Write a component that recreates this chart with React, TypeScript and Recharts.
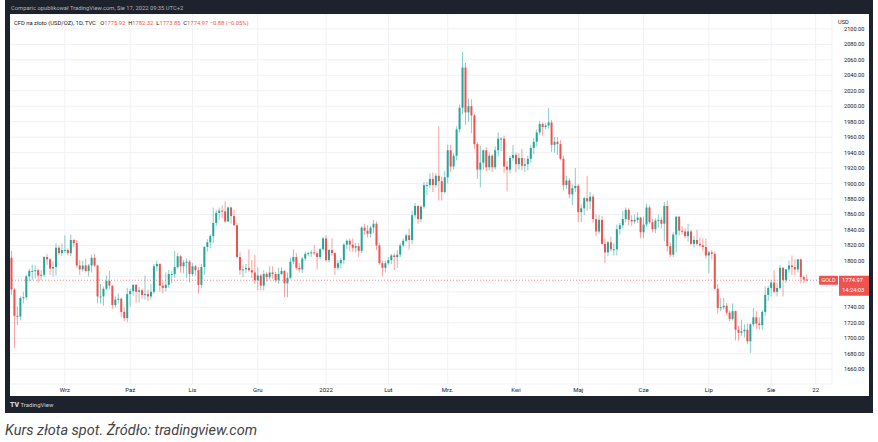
import React from 'react';
import { ComposedChart, Bar, XAxis, YAxis, CartesianGrid, ReferenceLine } from 'recharts';

const UP = '#26a69a';
const DOWN = '#ef5350';

// daily sessions, TVC:GOLD, Aug 2021 - Aug 2022 (last 8 are empty future slots)
const dates = [
  '2021-08-06', '2021-08-09', '2021-08-10', '2021-08-11', '2021-08-12', '2021-08-13', '2021-08-16', '2021-08-17', '2021-08-18',
  '2021-08-19', '2021-08-20', '2021-08-23', '2021-08-24', '2021-08-25', '2021-08-26', '2021-08-27', '2021-08-30', '2021-08-31',
  '2021-09-01', '2021-09-02', '2021-09-03', '2021-09-06', '2021-09-07', '2021-09-08', '2021-09-09', '2021-09-10', '2021-09-13',
  '2021-09-14', '2021-09-15', '2021-09-16', '2021-09-17', '2021-09-20', '2021-09-21', '2021-09-22', '2021-09-23', '2021-09-24',
  '2021-09-27', '2021-09-28', '2021-09-29', '2021-09-30',
  '2021-10-01', '2021-10-04', '2021-10-05', '2021-10-06', '2021-10-07', '2021-10-08', '2021-10-11', '2021-10-12', '2021-10-13',
  '2021-10-14', '2021-10-15', '2021-10-18', '2021-10-19', '2021-10-20', '2021-10-21', '2021-10-22', '2021-10-25', '2021-10-26',
  '2021-10-27', '2021-10-28', '2021-10-29',
  '2021-11-01', '2021-11-02', '2021-11-03', '2021-11-04', '2021-11-05', '2021-11-08', '2021-11-09', '2021-11-10', '2021-11-11',
  '2021-11-12', '2021-11-15', '2021-11-16', '2021-11-17', '2021-11-18', '2021-11-19', '2021-11-22', '2021-11-23', '2021-11-24',
  '2021-11-25', '2021-11-26', '2021-11-29', '2021-11-30',
  '2021-12-01', '2021-12-02', '2021-12-03', '2021-12-06', '2021-12-07', '2021-12-08', '2021-12-09', '2021-12-10', '2021-12-13',
  '2021-12-14', '2021-12-15', '2021-12-16', '2021-12-17', '2021-12-20', '2021-12-21', '2021-12-22', '2021-12-23', '2021-12-24',
  '2021-12-27', '2021-12-28', '2021-12-29', '2021-12-30', '2021-12-31',
  '2022-01-03', '2022-01-04', '2022-01-05', '2022-01-06', '2022-01-07', '2022-01-10', '2022-01-11', '2022-01-12', '2022-01-13',
  '2022-01-14', '2022-01-17', '2022-01-18', '2022-01-19', '2022-01-20', '2022-01-21', '2022-01-24', '2022-01-25', '2022-01-26',
  '2022-01-27', '2022-01-28', '2022-01-31',
  '2022-02-01', '2022-02-02', '2022-02-03', '2022-02-04', '2022-02-07', '2022-02-08', '2022-02-09', '2022-02-10', '2022-02-11',
  '2022-02-14', '2022-02-15', '2022-02-16', '2022-02-17', '2022-02-18', '2022-02-21', '2022-02-22', '2022-02-23', '2022-02-24',
  '2022-02-25', '2022-02-28',
  '2022-03-01', '2022-03-02', '2022-03-03', '2022-03-04', '2022-03-07', '2022-03-08', '2022-03-09', '2022-03-10', '2022-03-11',
  '2022-03-14', '2022-03-15', '2022-03-16', '2022-03-17', '2022-03-18', '2022-03-21', '2022-03-22', '2022-03-23', '2022-03-24',
  '2022-03-25', '2022-03-28', '2022-03-29', '2022-03-30', '2022-03-31',
  '2022-04-01', '2022-04-04', '2022-04-05', '2022-04-06', '2022-04-07', '2022-04-08', '2022-04-11', '2022-04-12', '2022-04-13',
  '2022-04-14', '2022-04-15', '2022-04-18', '2022-04-19', '2022-04-20', '2022-04-21', '2022-04-22', '2022-04-25', '2022-04-26',
  '2022-04-27', '2022-04-28', '2022-04-29',
  '2022-05-02', '2022-05-03', '2022-05-04', '2022-05-05', '2022-05-06', '2022-05-09', '2022-05-10', '2022-05-11', '2022-05-12',
  '2022-05-13', '2022-05-16', '2022-05-17', '2022-05-18', '2022-05-19', '2022-05-20', '2022-05-23', '2022-05-24', '2022-05-25',
  '2022-05-26', '2022-05-27', '2022-05-30', '2022-05-31',
  '2022-06-01', '2022-06-02', '2022-06-03', '2022-06-06', '2022-06-07', '2022-06-08', '2022-06-09', '2022-06-10', '2022-06-13',
  '2022-06-14', '2022-06-15', '2022-06-16', '2022-06-17', '2022-06-20', '2022-06-21', '2022-06-22', '2022-06-23', '2022-06-24',
  '2022-06-27', '2022-06-28', '2022-06-29', '2022-06-30',
  '2022-07-01', '2022-07-04', '2022-07-05', '2022-07-06', '2022-07-07', '2022-07-08', '2022-07-11', '2022-07-12', '2022-07-13',
  '2022-07-14', '2022-07-15', '2022-07-18', '2022-07-19', '2022-07-20', '2022-07-21', '2022-07-22', '2022-07-25', '2022-07-26',
  '2022-07-27', '2022-07-28', '2022-07-29',
  '2022-08-01', '2022-08-02', '2022-08-03', '2022-08-04', '2022-08-05', '2022-08-08', '2022-08-09', '2022-08-10', '2022-08-11',
  '2022-08-12', '2022-08-15', '2022-08-16', '2022-08-17',
  '2022-08-18', '2022-08-19', '2022-08-22', '2022-08-23', '2022-08-24', '2022-08-25', '2022-08-26', '2022-08-29',
];

const opens = [
  1804, 1763, 1729, 1728, 1752, 1753, 1780, 1787, 1787, 1788, 1781, 1782, 1805, 1802, 1790, 1792, 1817, 1810,
  1814, 1814, 1810, 1827, 1823, 1794, 1789, 1794, 1787, 1794, 1804, 1794, 1754, 1754, 1764, 1774, 1768, 1743, 1750, 1751, 1734, 1726,
  1757, 1761, 1769, 1760, 1762, 1756, 1757, 1754, 1760, 1793, 1796, 1768, 1765, 1769, 1783, 1783, 1792, 1806, 1793, 1798, 1799,
  1783, 1793, 1788, 1769, 1792, 1818, 1824, 1832, 1849, 1862, 1865, 1864, 1851, 1869, 1858, 1846, 1805, 1788, 1789, 1791, 1788, 1785,
  1775, 1781, 1768, 1783, 1779, 1785, 1783, 1775, 1783, 1787, 1771, 1778, 1799, 1805, 1791, 1789, 1803, 1809, 1810, 1811, 1810, 1805, 1815,
  1829, 1801, 1814, 1810, 1791, 1797, 1801, 1821, 1826, 1821, 1817, 1819, 1813, 1843, 1839, 1835, 1843, 1848, 1820, 1797, 1791,
  1797, 1801, 1807, 1805, 1808, 1820, 1826, 1833, 1827, 1859, 1871, 1854, 1870, 1898, 1898, 1906, 1898, 1910, 1903, 1889,
  1908, 1943, 1922, 1936, 1970, 1998, 2050, 1992, 2000, 1988, 1951, 1918, 1927, 1943, 1921, 1936, 1921, 1943, 1958, 1958, 1922, 1918, 1933,
  1937, 1925, 1933, 1923, 1925, 1932, 1946, 1954, 1966, 1977, 1973, 1975, 1979, 1950, 1954, 1951, 1932, 1898, 1904, 1886, 1894,
  1897, 1863, 1868, 1881, 1877, 1883, 1854, 1838, 1853, 1822, 1811, 1824, 1815, 1815, 1841, 1846, 1854, 1866, 1853, 1851, 1853, 1856,
  1837, 1847, 1869, 1850, 1841, 1852, 1853, 1848, 1871, 1819, 1808, 1834, 1857, 1839, 1838, 1832, 1838, 1822, 1827, 1822, 1820, 1818,
  1807, 1811, 1809, 1764, 1739, 1740, 1742, 1733, 1725, 1735, 1711, 1707, 1709, 1711, 1696, 1718, 1727, 1719, 1717, 1734, 1756,
  1765, 1772, 1760, 1765, 1791, 1775, 1789, 1794, 1792, 1789, 1802, 1779, 1775.92,
];

const highs = [
  1813, 1765, 1741, 1754, 1760, 1782, 1790, 1795, 1794, 1790, 1788, 1806, 1809, 1804, 1799, 1823, 1820, 1822,
  1833, 1816, 1834, 1828, 1827, 1801, 1800, 1803, 1796, 1808, 1809, 1795, 1770, 1767, 1781, 1787, 1768, 1754, 1758, 1753, 1740, 1765,
  1764, 1770, 1770, 1766, 1764, 1781, 1763, 1770, 1796, 1800, 1797, 1772, 1785, 1788, 1787, 1813, 1810, 1808, 1801, 1803, 1801,
  1797, 1795, 1792, 1796, 1819, 1828, 1834, 1869, 1866, 1869, 1872, 1877, 1870, 1870, 1866, 1849, 1811, 1795, 1796, 1815, 1801, 1808,
  1792, 1783, 1788, 1786, 1793, 1793, 1786, 1791, 1792, 1788, 1785, 1804, 1815, 1810, 1797, 1805, 1812, 1812, 1814, 1820, 1812, 1817, 1831,
  1833, 1815, 1829, 1811, 1801, 1804, 1823, 1828, 1829, 1829, 1823, 1823, 1845, 1848, 1846, 1845, 1853, 1851, 1823, 1800, 1800,
  1805, 1809, 1810, 1814, 1823, 1829, 1835, 1842, 1865, 1875, 1872, 1872, 1902, 1902, 1913, 1914, 1913, 1974, 1909, 1916,
  1950, 1950, 1939, 1974, 2002, 2070, 2056, 2010, 2009, 1990, 1954, 1949, 1944, 1947, 1940, 1938, 1948, 1966, 1960, 1962, 1929, 1936, 1950,
  1940, 1939, 1945, 1933, 1936, 1950, 1959, 1970, 1981, 1979, 1978, 1998, 1982, 1960, 1960, 1956, 1936, 1910, 1907, 1899, 1920,
  1899, 1873, 1883, 1910, 1889, 1886, 1860, 1859, 1858, 1829, 1826, 1831, 1823, 1847, 1849, 1865, 1869, 1868, 1859, 1860, 1863, 1857,
  1857, 1874, 1872, 1854, 1855, 1860, 1857, 1876, 1878, 1824, 1837, 1858, 1858, 1845, 1842, 1848, 1840, 1832, 1840, 1830, 1829, 1829,
  1813, 1814, 1812, 1770, 1752, 1752, 1746, 1736, 1745, 1736, 1716, 1724, 1718, 1719, 1719, 1739, 1735, 1727, 1736, 1767, 1768,
  1775, 1788, 1772, 1795, 1792, 1790, 1800, 1807, 1802, 1802, 1803, 1781, 1782.32,
];

const lows = [
  1756, 1687, 1717, 1723, 1745, 1750, 1773, 1775, 1777, 1772, 1775, 1779, 1795, 1782, 1780, 1781, 1807, 1806,
  1810, 1807, 1806, 1818, 1791, 1782, 1786, 1785, 1780, 1785, 1792, 1745, 1745, 1742, 1762, 1763, 1738, 1740, 1745, 1727, 1722, 1721,
  1741, 1755, 1746, 1746, 1751, 1750, 1748, 1750, 1757, 1787, 1760, 1758, 1760, 1765, 1771, 1778, 1790, 1785, 1784, 1778, 1772,
  1780, 1781, 1758, 1765, 1782, 1812, 1816, 1823, 1845, 1853, 1855, 1849, 1850, 1848, 1846, 1804, 1782, 1779, 1784, 1786, 1778, 1770,
  1762, 1762, 1762, 1773, 1776, 1777, 1772, 1770, 1782, 1753, 1753, 1776, 1796, 1788, 1785, 1784, 1800, 1806, 1805, 1808, 1789, 1802, 1813,
  1799, 1798, 1807, 1782, 1788, 1790, 1796, 1815, 1812, 1812, 1811, 1805, 1810, 1834, 1830, 1830, 1836, 1814, 1795, 1780, 1785,
  1795, 1796, 1788, 1791, 1805, 1818, 1824, 1815, 1822, 1855, 1848, 1850, 1867, 1885, 1894, 1889, 1895, 1878, 1878, 1887,
  1900, 1915, 1918, 1930, 1966, 1990, 1976, 1980, 1965, 1945, 1906, 1895, 1918, 1916, 1917, 1915, 1918, 1935, 1942, 1914, 1890, 1913, 1929,
  1915, 1918, 1917, 1915, 1917, 1927, 1938, 1948, 1963, 1962, 1970, 1971, 1941, 1940, 1937, 1930, 1891, 1893, 1881, 1872, 1889,
  1850, 1850, 1859, 1865, 1867, 1849, 1832, 1835, 1821, 1797, 1806, 1812, 1807, 1807, 1834, 1842, 1850, 1846, 1845, 1848, 1849, 1829,
  1829, 1844, 1848, 1837, 1836, 1843, 1842, 1825, 1812, 1805, 1805, 1811, 1833, 1834, 1829, 1825, 1820, 1817, 1820, 1818, 1813, 1803,
  1784, 1802, 1763, 1732, 1735, 1737, 1730, 1722, 1723, 1697, 1697, 1703, 1701, 1692, 1681, 1715, 1712, 1711, 1711, 1729, 1748,
  1754, 1758, 1754, 1763, 1754, 1771, 1785, 1782, 1781, 1785, 1771, 1771, 1773.85,
];

const closes = [
  1763, 1729, 1728, 1752, 1753, 1780, 1787, 1787, 1788, 1781, 1782, 1805, 1802, 1790, 1792, 1817, 1810, 1814,
  1814, 1810, 1827, 1823, 1794, 1789, 1794, 1787, 1794, 1804, 1794, 1754, 1754, 1764, 1774, 1768, 1743, 1750, 1751, 1734, 1726, 1757,
  1761, 1769, 1760, 1762, 1756, 1757, 1754, 1760, 1793, 1796, 1768, 1765, 1769, 1783, 1783, 1792, 1806, 1793, 1798, 1799, 1783,
  1793, 1788, 1769, 1792, 1818, 1824, 1832, 1849, 1862, 1865, 1864, 1851, 1869, 1858, 1846, 1805, 1788, 1789, 1791, 1788, 1785, 1775,
  1781, 1768, 1783, 1779, 1785, 1783, 1775, 1783, 1787, 1771, 1778, 1799, 1805, 1791, 1789, 1803, 1809, 1810, 1811, 1810, 1805, 1815, 1829,
  1801, 1814, 1810, 1791, 1797, 1801, 1821, 1826, 1821, 1817, 1819, 1813, 1843, 1839, 1835, 1843, 1848, 1820, 1797, 1791, 1797,
  1801, 1807, 1805, 1808, 1820, 1826, 1833, 1827, 1859, 1871, 1854, 1870, 1898, 1898, 1906, 1898, 1910, 1903, 1889, 1908,
  1943, 1922, 1936, 1970, 1998, 2050, 1992, 2000, 1988, 1951, 1918, 1927, 1943, 1921, 1936, 1921, 1943, 1958, 1958, 1922, 1918, 1933, 1937,
  1925, 1933, 1923, 1925, 1932, 1946, 1954, 1966, 1977, 1973, 1975, 1979, 1950, 1954, 1951, 1932, 1898, 1904, 1886, 1894, 1897,
  1863, 1868, 1881, 1877, 1883, 1854, 1838, 1853, 1822, 1811, 1824, 1815, 1815, 1841, 1846, 1854, 1866, 1853, 1851, 1853, 1856, 1837,
  1847, 1869, 1850, 1841, 1852, 1853, 1848, 1871, 1819, 1808, 1834, 1857, 1839, 1838, 1832, 1838, 1822, 1827, 1822, 1820, 1818, 1807,
  1811, 1809, 1764, 1739, 1740, 1742, 1733, 1725, 1735, 1711, 1707, 1709, 1711, 1696, 1718, 1727, 1719, 1717, 1734, 1756, 1765,
  1772, 1760, 1765, 1791, 1775, 1789, 1794, 1792, 1789, 1802, 1779, 1775.85, 1774.97,
];

const priceTicks = [
  1660, 1680, 1700, 1720, 1740, 1760, 1780, 1800, 1820, 1840, 1860, 1880,
  1900, 1920, 1940, 1960, 1980, 2000, 2020, 2040, 2060, 2080, 2100,
];

const tickDates = [
  '2021-09-01', '2021-10-01', '2021-11-01', '2021-12-01', '2022-01-03', '2022-02-01',
  '2022-03-01', '2022-04-01', '2022-05-02', '2022-06-01', '2022-07-01', '2022-08-01', '2022-08-22',
];
const tickLabels = ['Wrz', 'Paź', 'Lis', 'Gru', '2022', 'Lut', 'Mrz.', 'Kwi', 'Maj', 'Cze', 'Lip', 'Sie', '22'];

const rows = dates.map((date, i) => ({ date, o: opens[i], h: highs[i], l: lows[i], c: closes[i] }));

const last = closes.length - 1;
const change = closes[last] - closes[last - 1];
const changePct = (change / closes[last - 1]) * 100;

const Candle = (props: any) => {
  const { x, y, width, height, payload } = props;
  if (!payload || payload.o == null || !isFinite(y) || !isFinite(height)) return <g />;
  const { o, h, l, c } = payload;
  const color = c >= o ? UP : DOWN;
  const k = height / (h - l);
  const top = y + (h - Math.max(o, c)) * k;
  const bodyH = Math.max(1, Math.abs(o - c) * k);
  const cx = x + width / 2;
  return (
    <g>
      <line x1={cx} x2={cx} y1={y} y2={y + height} stroke={color} strokeOpacity={0.55} strokeWidth={1} />
      <rect x={x} y={top} width={width} height={bodyH} fill={color} />
    </g>
  );
};

// price scale label; the ones under the last-price tag are hidden, like TradingView does
const PriceTick = (props: any) => {
  const { x, y, payload } = props;
  if (Math.abs(payload.value - closes[last]) < 15) return <g />;
  return (
    <text x={x} y={y} dy="0.355em" fontSize={5.6} fill="#131722">
      {Number(payload.value).toFixed(2)}
    </text>
  );
};

const PriceTag = (props: any) => {
  const vb = props.viewBox;
  if (!vb) return null;
  const right = vb.x + vb.width;
  const y = vb.y;
  return (
    <g>
      <rect x={right - 13} y={y - 4.5} width={19} height={9} fill={DOWN} rx={1} />
      <text x={right - 3.5} y={y} dy="0.35em" textAnchor="middle" fontSize={5.5} fill="#fff">GOLD</text>
      <rect x={right + 7} y={y - 4.5} width={30} height={20} fill={DOWN} />
      <text x={right + 10} y={y} dy="0.35em" fontSize={5.8} fill="#fff">{closes[last].toFixed(2)}</text>
      <text x={right + 10} y={y + 10} dy="0.35em" fontSize={5.8} fill="#fff">14:24:03</text>
    </g>
  );
};

const tvFont = 'Roboto, "Liberation Sans", sans-serif';

export default function App() {
  const red = { color: DOWN };
  return (
    <div style={{ position: 'absolute', left: 0, top: 0, width: 878, height: 442, background: '#fff', fontFamily: tvFont }}>
      <div style={{ position: 'absolute', left: 5, top: 0, width: 868, height: 413, background: '#1e222d' }} />
      <div style={{ position: 'absolute', left: 11, top: 5, fontSize: 5.8, color: '#b2b5be', whiteSpace: 'nowrap' }}>
        Comparic opublikował TradingView.com, Sie 17, 2022 09:35 UTC+2
      </div>

      <div style={{ position: 'absolute', left: 10, top: 14, width: 859, height: 382, background: '#fff' }}>
        <ComposedChart width={859} height={382} data={rows} margin={{ top: 0, right: 0, bottom: 0, left: 0 }} barCategoryGap="16%">
          <CartesianGrid stroke="#eff1f5" strokeWidth={1} />
          <XAxis
            dataKey="date"
            ticks={tickDates}
            interval={0}
            tickFormatter={(d: string) => tickLabels[tickDates.indexOf(d)] ?? ''}
            axisLine={false}
            tickLine={false}
            tickSize={0}
            tickMargin={4}
            height={12}
            tick={{ fontSize: 6, fill: '#131722' }}
          />
          <YAxis
            orientation="right"
            width={37}
            type="number"
            domain={[1640.8, 2119.2]}
            allowDataOverflow
            ticks={priceTicks}
            interval={0}
            axisLine={false}
            tickLine={false}
            tickSize={6}
            tickMargin={6}
            tick={<PriceTick />}
          />
          <ReferenceLine
            y={closes[last]}
            stroke={DOWN}
            strokeOpacity={0.7}
            strokeDasharray="1 2"
            label={<PriceTag />}
          />
          <Bar
            dataKey={(r: any) => (r.o == null ? null : [r.l, r.h])}
            shape={<Candle />}
            isAnimationActive={false}
          />
        </ComposedChart>
        <div style={{ position: 'absolute', left: 828, top: 5, fontSize: 5.6, color: '#131722' }}>USD</div>
        <div style={{ position: 'absolute', left: 4, top: 6, fontSize: 5.8, color: '#131722', whiteSpace: 'nowrap' }}>
          CFD na złoto (USD/OZ), 1D, TVC&nbsp;&nbsp;
          O<span style={red}>{opens[last].toFixed(2)}</span>&nbsp;
          H<span style={red}>{highs[last].toFixed(2)}</span>&nbsp;
          L<span style={red}>{lows[last].toFixed(2)}</span>&nbsp;
          C<span style={red}>{closes[last].toFixed(2)}</span>&nbsp;
          <span style={red}>
            {change.toFixed(2).replace('-', '−')} ({changePct.toFixed(2).replace('-', '−')}%)
          </span>
        </div>
      </div>

      <div style={{ position: 'absolute', left: 10, top: 401, fontSize: 6, color: '#d1d4dc', whiteSpace: 'nowrap' }}>
        <span style={{ fontWeight: 900, fontSize: 7 }}>TV</span> TradingView
      </div>
      <div style={{ position: 'absolute', left: 5, top: 422, fontSize: 14.5, fontStyle: 'italic', color: '#444', whiteSpace: 'nowrap' }}>
        Kurs złota spot. Źródło: tradingview.com
      </div>
    </div>
  );
}
